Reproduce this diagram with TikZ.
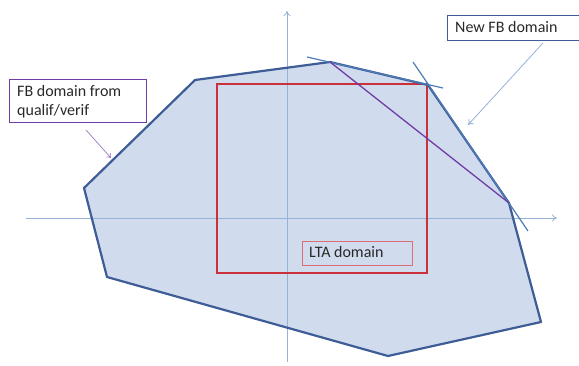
\documentclass[tikz,border=0pt]{standalone}
\usepackage{fontspec}
\setmainfont{Carlito}
\usetikzlibrary{arrows.meta}
\definecolor{fillblue}{RGB}{208,220,237}
\definecolor{edgeblue}{RGB}{62,92,150}
\definecolor{axisblue}{RGB}{150,178,214}
\definecolor{tanblue}{RGB}{78,124,184}
\definecolor{lredc}{RGB}{204,48,58}
\definecolor{purp}{RGB}{112,60,165}
\definecolor{txt}{RGB}{40,40,40}
\tikzset{
  axis/.style={draw=axisblue, line width=0.8pt, -{To[open,length=5pt,width=7pt]}},
  poly/.style={draw=edgeblue, line width=2.2pt, line join=round},
  tangent/.style={draw=tanblue, line width=1.2pt},
  cut/.style={draw=purp, line width=1.3pt},
  lta/.style={draw=lredc, line width=1.5pt},
  label/.style={font=\fontsize{16}{19}\selectfont, text=txt, align=left, inner sep=0pt},
}
\begin{document}
\begin{tikzpicture}[x=1pt,y=-1pt]
\useasboundingbox (0,0) rectangle (579,365);
% polygon vertices
\coordinate (p1) at (195,80);
\coordinate (p2) at (330,62);
\coordinate (p3) at (428,85);
\coordinate (p4) at (509,203);
\coordinate (p5) at (541,322);
\coordinate (p6) at (388,356);
\coordinate (p7) at (107,277);
\coordinate (p8) at (84,188);
\fill[fillblue] (p1) -- (p2) -- (p3) -- (p4) -- (p5) -- (p6) -- (p7) -- (p8) -- cycle;
% axes
\coordinate (xs) at (26,218);
\coordinate (xe) at (557,218);
\coordinate (ys) at (287,362);
\coordinate (ye) at (287,11);
\draw[axis] (xs) -- (xe);
\draw[axis] (ys) -- (ye);
% LTA rectangle
\coordinate (r1) at (217,84);
\coordinate (r2) at (427,273);
\draw[lta] (r1) rectangle (r2);
% polygon outline
\draw[poly] (p1) -- (p2) -- (p3) -- (p4) -- (p5) -- (p6) -- (p7) -- (p8) -- cycle;
% tangent lines
\coordinate (t1a) at (307,57);
\coordinate (t1b) at (443,88);
\coordinate (t2a) at (413,62);
\coordinate (t2b) at (528,231);
\draw[tangent] (t1a) -- (t1b);
\draw[tangent] (t2a) -- (t2b);
% cut line
\draw[cut] (p2) -- (p4);
% labels
\node[draw=purp, line width=1.2pt, minimum width=137pt, minimum height=43pt, anchor=north west, inner sep=0pt] (fbq) at (9,79) {};
\node[label, anchor=north west] (fbqt) at (17,85.5) {FB domain from\\qualif/verif};
\coordinate (fbqa) at (86,130);
\coordinate (fbqb) at (111,158);
\draw[draw=purp!70, line width=0.7pt, -{To[length=4pt,width=6pt]}] (fbqa) -- (fbqb);
\node[draw=edgeblue, line width=1.2pt, minimum width=140pt, minimum height=25pt, anchor=north west, inner sep=0pt] (nfb) at (447,15) {};
\node[label, anchor=base west] (nfbt) at (455,32.5) {New FB domain};
\coordinate (nfba) at (543,43);
\coordinate (nfbb) at (468,125);
\draw[draw=axisblue, line width=0.8pt, -{To[length=5pt,width=7pt]}] (nfba) -- (nfbb);
\node[draw=lredc!70, line width=0.8pt, minimum width=110pt, minimum height=24pt, anchor=north west, inner sep=0pt] (ltab) at (302,241) {};
\node[label, anchor=base west] (ltat) at (309,257.5) {LTA domain};
\end{tikzpicture}
\end{document}
